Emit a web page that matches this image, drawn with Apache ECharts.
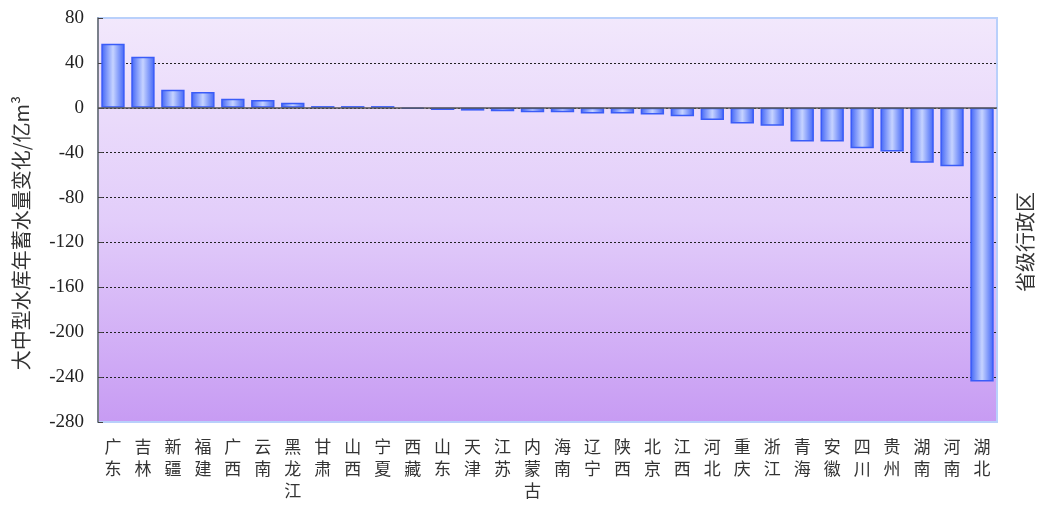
<!DOCTYPE html>
<html>
<head>
<meta charset="utf-8">
<script src="https://cdn.jsdelivr.net/npm/echarts@6/dist/echarts.min.js"></script>
<style>
  html, body { margin: 0; padding: 0; background: #fff; }
  #chart { width: 1037px; height: 508px; }
</style>
</head>
<body>
<div id="chart"></div>
<script>
// Provinces, ordered by annual storage change of large & medium reservoirs
const provinces = ['广东','吉林','新疆','福建','广西','云南','黑龙江','甘肃','山西','宁夏','西藏','山东','天津','江苏','内蒙古','海南','辽宁','陕西','北京','江西','河北','重庆','浙江','青海','安徽','四川','贵州','湖南','河南','湖北'];
// Storage change, 亿m³
const storageChange = [57, 45.5, 16, 14, 8, 7, 4.5, 1.5, 1.5, 1.5, -1, -2, -2.5, -3, -4, -4, -5, -5, -6, -7.5, -11, -14, -16, -30, -30, -36, -39, -49, -52, -244];
// Value axis range
const yMin = -280, yMax = 80, yStep = 40;
const yTitle = '大中型水库年蓄水量变化/亿m³';
const xTitle = '省级行政区';

const chart = echarts.init(document.getElementById('chart'));
const serif = '"Liberation Serif", "DejaVu Serif", serif';
const cjk = '"Noto Sans CJK SC", sans-serif';

chart.setOption({
  animation: false,
  grid: {
    left: 98, right: 40, top: 18, bottom: 86,
    show: true,
    borderColor: '#b9d0fb',
    borderWidth: 2,
    backgroundColor: new echarts.graphic.LinearGradient(0, 0, 0, 1, [
      { offset: 0, color: '#f2e8fc' },
      { offset: 0.5, color: '#e2cdfa' },
      { offset: 1, color: '#c79bf3' }
    ])
  },
  xAxis: {
    type: 'category',
    data: provinces,
    axisLine: { show: false, onZero: false },
    axisTick: { show: false },
    axisLabel: {
      interval: 0,
      margin: 14,
      fontFamily: cjk,
      fontSize: 17,
      color: '#333',
      lineHeight: 22,
      formatter: v => v.split('').join('\n')
    }
  },
  yAxis: {
    type: 'value',
    min: yMin, max: yMax, interval: yStep,
    axisLine: { show: true, onZero: false, lineStyle: { color: '#666', width: 1.5 } },
    axisTick: { show: true, inside: true, length: 5, lineStyle: { color: '#444' } },
    axisLabel: { fontFamily: serif, fontSize: 19, color: '#222', margin: 14 },
    splitLine: {
      show: true,
      showMinLine: false,
      showMaxLine: false,
      lineStyle: { color: '#222', type: [2, 2], width: 1 }
    }
  },
  series: [{
    type: 'bar',
    data: storageChange,
    barWidth: '78%',
    itemStyle: {
      color: new echarts.graphic.LinearGradient(0, 0, 1, 0, [
        { offset: 0, color: '#3f63f6' },
        { offset: 0.5, color: '#c6d3ff' },
        { offset: 1, color: '#3f63f6' }
      ]),
      borderColor: '#3a5cf8',
      borderWidth: 1.5
    },
    markLine: {
      silent: true,
      symbol: 'none',
      label: { show: false },
      lineStyle: { color: '#555', type: 'solid', width: 1.5 },
      data: [{ yAxis: 0 }]
    }
  }],
  graphic: [{
    type: 'text',
    x: 21, y: 233,
    rotation: Math.PI / 2,
    style: {
      text: yTitle, font: '20px ' + cjk, fill: '#333',
      align: 'center', verticalAlign: 'middle'
    }
  }, {
    type: 'text',
    x: 1025, y: 242,
    rotation: Math.PI / 2,
    style: {
      text: xTitle, font: '20px ' + cjk, fill: '#333',
      align: 'center', verticalAlign: 'middle'
    }
  }]
});
</script>
</body>
</html>
